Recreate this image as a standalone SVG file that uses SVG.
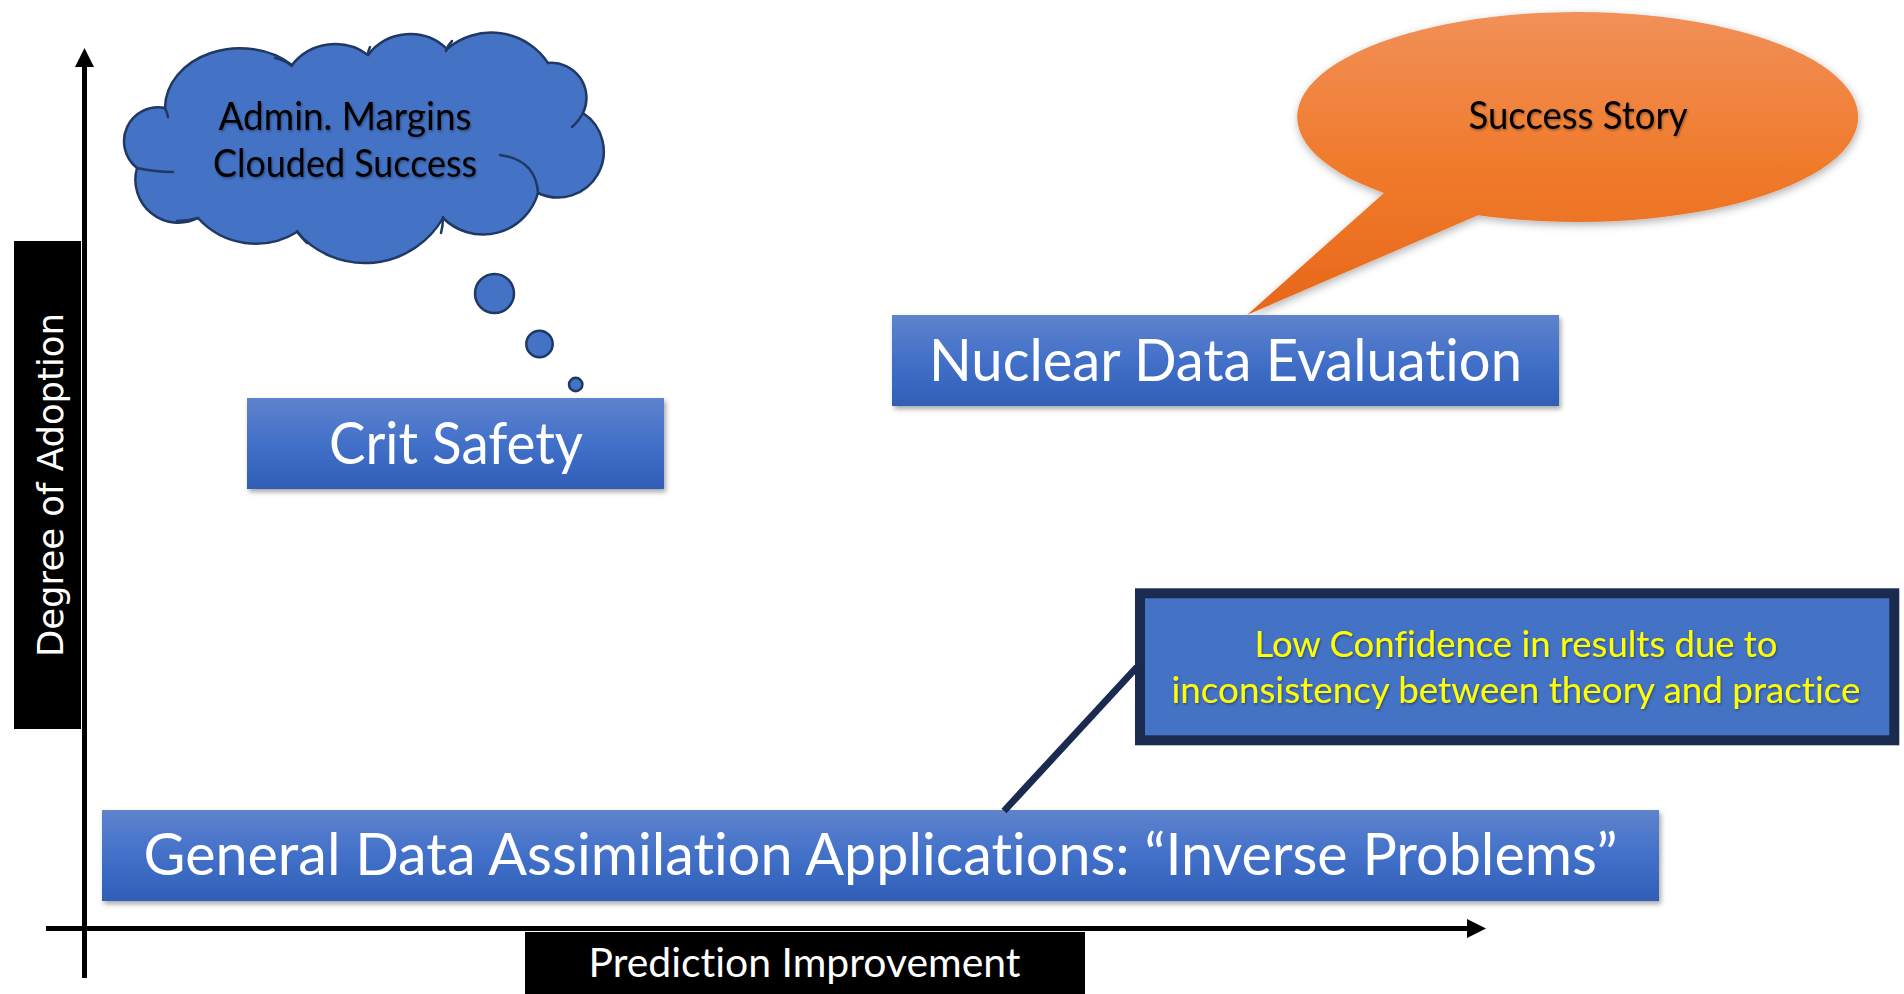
<svg xmlns="http://www.w3.org/2000/svg" width="1904" height="994" viewBox="0 0 1904 994">
  <defs>
    <linearGradient id="blueGrad" x1="0" y1="0" x2="0" y2="1">
      <stop offset="0" stop-color="#5F83CC"/>
      <stop offset="0.5" stop-color="#4270C9"/>
      <stop offset="1" stop-color="#2F5FB6"/>
    </linearGradient>
    <linearGradient id="orangeGrad" gradientUnits="userSpaceOnUse" x1="0" y1="12" x2="0" y2="315">
      <stop offset="0" stop-color="#F19059"/>
      <stop offset="0.5" stop-color="#F07B2C"/>
      <stop offset="1" stop-color="#E8671A"/>
    </linearGradient>
    <filter id="boxShadow" x="-5%" y="-20%" width="110%" height="150%">
      <feDropShadow dx="2" dy="3" stdDeviation="2.5" flood-color="#000" flood-opacity="0.35"/>
    </filter>
    <filter id="softShadow" x="-10%" y="-10%" width="120%" height="130%">
      <feDropShadow dx="1" dy="3" stdDeviation="4" flood-color="#000" flood-opacity="0.3"/>
    </filter>
    <filter id="textShadow" x="-5%" y="-30%" width="110%" height="160%">
      <feDropShadow dx="1" dy="1.5" stdDeviation="1.2" flood-color="#000" flood-opacity="0.35"/>
    </filter>
  </defs>
  <style>
    .calibri { font-family: Lato, "Open Sans", "Liberation Sans", sans-serif; font-variant-ligatures: none; font-feature-settings: "liga" 0, "clig" 0; }
    .box { fill: url(#blueGrad); filter: url(#boxShadow); }
    .boxText { fill: #FFFFFF; font-size: 58px; text-anchor: middle; }
    .cloud { fill: #4472C4; stroke: #203864; stroke-width: 2.5; stroke-linejoin: round; }
    .crease { fill: none; stroke: #203864; stroke-width: 2.5; stroke-linecap: round; }
    .axis { stroke: #000000; stroke-width: 5; fill: none; }
    .axisLabelBg { fill: #000000; }
    .darkLine { stroke: #1B2B50; fill: none; }
  </style>

  <rect width="1904" height="994" fill="#FFFFFF"/>

  <!-- axes -->
  <g id="axes">
    <rect class="axisLabelBg" x="14" y="241" width="67" height="488"/>
    <text transform="translate(63,485) rotate(-90)" x="0" y="0" font-family="'DejaVu Sans', Verdana, sans-serif" font-size="36" fill="#FFFFFF" text-anchor="middle" textLength="344" lengthAdjust="spacingAndGlyphs">Degree of Adoption</text>
    <line class="axis" x1="84.5" y1="64" x2="84.5" y2="978"/>
    <polygon points="84.5,48 75,67 94,67" fill="#000000"/>
    <line class="axis" x1="46" y1="928.5" x2="1470" y2="928.5"/>
    <polygon points="1486,928.5 1467,919 1467,938" fill="#000000"/>
    <rect class="axisLabelBg" x="525" y="932" width="560" height="62"/>
    <text class="calibri" x="804.5" y="977" font-size="40" fill="#FFFFFF" text-anchor="middle" textLength="432" lengthAdjust="spacingAndGlyphs">Prediction Improvement</text>
  </g>

  <!-- thought cloud -->
  <g id="cloud-admin-margins">
    <path class="cloud" d="M 165 108
      A 75 60 0 0 1 292 65
      A 55 55 0 0 1 368 55
      A 53 53 0 0 1 447 49
      A 68 68 0 0 1 548 63
      A 35 35 0 0 1 583 113
      A 46 46 0 0 1 538 193
      A 57 57 0 0 1 443 218
      A 90 90 0 0 1 297 232
      A 78 78 0 0 1 198 218
      A 43 43 0 0 1 137 168
      A 34 34 0 0 1 165 108 Z"/>
    <path class="crease" d="M 275 58 Q 285 60 292 66"/>
    <path class="crease" d="M 370 47 Q 368 51 368 55"/>
    <path class="crease" d="M 446 51 Q 448 45 452 41"/>
    <path class="crease" d="M 572 127 Q 579 121 583 113"/>
    <path class="crease" d="M 500 155 Q 536 160 538 193"/>
    <path class="crease" d="M 443 217 Q 443 226 441 233"/>
    <path class="crease" d="M 297 231 Q 301 237 307 243"/>
    <path class="crease" d="M 198 218 Q 188 221 177 221"/>
    <path class="crease" d="M 137 168 Q 155 172 173 172"/>
    <path class="crease" d="M 165 108 Q 167 112 168 117"/>
    <circle class="cloud" cx="494.5" cy="293.5" r="19.5"/>
    <circle class="cloud" cx="539.5" cy="344" r="13.2"/>
    <circle class="cloud" cx="575.7" cy="384.5" r="6.7"/>
    <g filter="url(#textShadow)">
      <text class="calibri" x="345" y="130" font-size="38" fill="#000000" text-anchor="middle" textLength="253" lengthAdjust="spacingAndGlyphs">Admin. Margins</text>
      <text class="calibri" x="345" y="177" font-size="38" fill="#000000" text-anchor="middle" textLength="264" lengthAdjust="spacingAndGlyphs">Clouded Success</text>
    </g>
  </g>

  <!-- speech balloon -->
  <g id="balloon-success-story">
    <path d="M 1478 215.2 A 280.5 105 0 1 0 1384 193 L 1247 315 Z" fill="url(#orangeGrad)" filter="url(#softShadow)"/>
    <text class="calibri" x="1578" y="129" font-size="38" fill="#000000" text-anchor="middle" textLength="219" lengthAdjust="spacingAndGlyphs" filter="url(#textShadow)">Success Story</text>
  </g>

  <!-- category boxes -->
  <g id="node-crit-safety">
    <rect class="box" x="247" y="398" width="417" height="91"/>
    <text class="calibri boxText" x="456" y="464" textLength="254" lengthAdjust="spacingAndGlyphs">Crit Safety</text>
  </g>

  <g id="node-nuclear-data-evaluation">
    <rect class="box" x="892" y="315" width="667" height="91"/>
    <text class="calibri boxText" x="1225.5" y="381" textLength="593" lengthAdjust="spacingAndGlyphs">Nuclear Data Evaluation</text>
  </g>

  <g id="node-general-data-assimilation">
    <rect class="box" x="102" y="810" width="1557" height="91"/>
    <text class="calibri boxText" x="880.5" y="875" textLength="1474" lengthAdjust="spacingAndGlyphs">General Data Assimilation Applications: “Inverse Problems”</text>
  </g>

  <g id="node-low-confidence">
    <rect x="1140" y="593.3" width="754.3" height="147" fill="#4472C4" stroke="#1B2B50" stroke-width="10"/>
    <g filter="url(#textShadow)">
      <text class="calibri" x="1516" y="657" font-size="37" fill="#FFFF00" text-anchor="middle" textLength="523" lengthAdjust="spacingAndGlyphs">Low Confidence in results due to</text>
      <text class="calibri" x="1516" y="703" font-size="37" fill="#FFFF00" text-anchor="middle" textLength="689" lengthAdjust="spacingAndGlyphs">inconsistency between theory and practice</text>
    </g>
  </g>

  <!-- connectors -->
  <g id="connectors">
    <line class="darkLine" x1="1137" y1="667" x2="1004" y2="811" stroke-width="7"/>
  </g>
</svg>
